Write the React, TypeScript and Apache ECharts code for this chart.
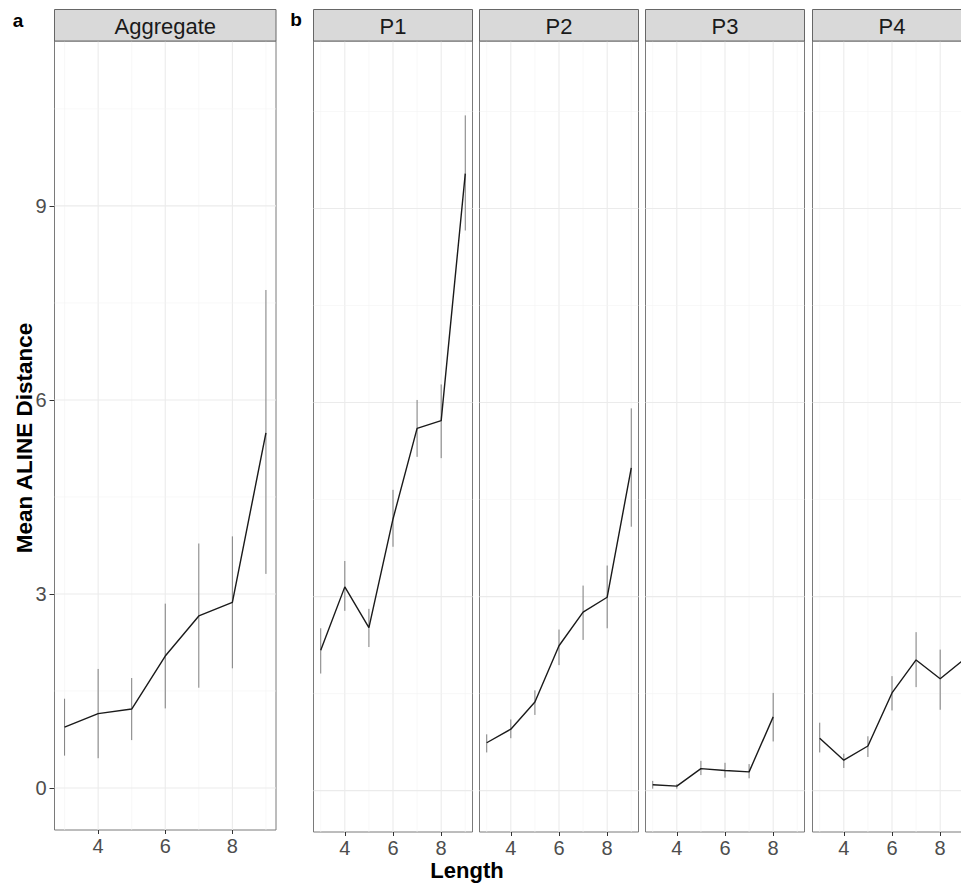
import React, { useEffect, useRef } from "react";
import * as echarts from "echarts";

// ---------- data ----------
const panelNames = ["Aggregate", "P1", "P2", "P3", "P4"];
const lengths = [3, 4, 5, 6, 7, 8, 9];
const lengthsP3 = [3, 4, 5, 6, 7, 8];

const aggMean = [0.94, 1.15, 1.22, 2.04, 2.66, 2.87, 5.49];
const aggLo = [0.5, 0.46, 0.74, 1.23, 1.55, 1.85, 3.31];
const aggHi = [1.38, 1.84, 1.7, 2.85, 3.78, 3.89, 7.7];

const p1Mean = [2.17, 3.15, 2.52, 4.2, 5.6, 5.72, 9.54];
const p1Lo = [1.81, 2.78, 2.22, 3.77, 5.16, 5.14, 8.66];
const p1Hi = [2.51, 3.55, 2.81, 4.65, 6.04, 6.28, 10.44];

const p2Mean = [0.74, 0.95, 1.37, 2.24, 2.76, 2.99, 4.99];
const p2Lo = [0.59, 0.81, 1.17, 1.94, 2.33, 2.51, 4.08];
const p2Hi = [0.87, 1.1, 1.55, 2.49, 3.17, 3.48, 5.91];

const p3Mean = [0.09, 0.07, 0.34, 0.31, 0.29, 1.14];
const p3Lo = [0.03, 0.03, 0.24, 0.2, 0.19, 0.76];
const p3Hi = [0.15, 0.1, 0.46, 0.43, 0.41, 1.51];

const p4Mean = [0.81, 0.47, 0.69, 1.51, 2.02, 1.73, 2.03];
const p4Lo = [0.59, 0.35, 0.52, 1.24, 1.6, 1.25, 1.5];
const p4Hi = [1.05, 0.57, 0.84, 1.77, 2.45, 2.18, 2.6];

const xTickLabels = [4, 6, 8];
const xMinorBreaks = [3, 5, 7, 9];
const yTickLabels = [0, 3, 6, 9];
const yMinorBreaks = [1.5, 4.5, 7.5, 10.5];

const panelX = [lengths, lengths, lengths, lengthsP3, lengths];
const panelMean = [aggMean, p1Mean, p2Mean, p3Mean, p4Mean];
const panelLo = [aggLo, p1Lo, p2Lo, p3Lo, p4Lo];
const panelHi = [aggHi, p1Hi, p2Hi, p3Hi, p4Hi];

// ---------- layout ----------
const panels = [
  { left: 54.5, width: 221.5, top: 41, height: 789, ymin: -0.65, ymax: 11.55 },
  { left: 313.5, width: 159, top: 41, height: 791, ymin: -0.64, ymax: 11.59 },
  { left: 479.5, width: 159, top: 41, height: 791, ymin: -0.64, ymax: 11.59 },
  { left: 645.5, width: 159, top: 41, height: 791, ymin: -0.64, ymax: 11.59 },
  { left: 812.5, width: 159, top: 41, height: 791, ymin: -0.64, ymax: 11.59 },
];

const FONT = "Liberation Sans, Arial, Helvetica, sans-serif";

export default function App() {
  const ref = useRef<HTMLDivElement>(null);
  useEffect(() => {
    if (!ref.current) return;
    const chart = echarts.init(ref.current, null, { renderer: "svg" });

    const grids: any[] = [];
    const xAxes: any[] = [];
    const yAxes: any[] = [];
    const series: any[] = [];
    const graphics: any[] = [];

    panels.forEach((p, i) => {
      grids.push({
        left: p.left,
        top: p.top,
        width: p.width,
        height: p.height,
        show: true,
        borderColor: "#7a7a7a",
        borderWidth: 1,
        backgroundColor: "#ffffff",
        containLabel: false,
      });
      xAxes.push({
        type: "value",
        gridIndex: i,
        position: "bottom",
        min: 2.7,
        max: 9.3,
        axisLine: { show: false, onZero: false },
        splitLine: { show: false },
        axisTick: {
          show: true,
          customValues: xTickLabels,
          length: 4,
          lineStyle: { color: "#333333", width: 1 },
        },
        axisLabel: {
          show: true,
          customValues: xTickLabels,
          margin: 6,
          fontSize: 20,
          color: "#4d4d4d",
          fontFamily: FONT,
        },
      });
      yAxes.push({
        type: "value",
        gridIndex: i,
        position: "left",
        min: p.ymin,
        max: p.ymax,
        axisLine: { show: false, onZero: false },
        splitLine: { show: false },
        axisTick: {
          show: i === 0,
          customValues: yTickLabels,
          length: 5,
          lineStyle: { color: "#333333", width: 1 },
        },
        axisLabel: {
          show: i === 0,
          customValues: yTickLabels,
          margin: 8,
          fontSize: 20,
          color: "#4d4d4d",
          fontFamily: FONT,
        },
      });

      // grid lines
      const gridData: number[][] = [];
      xTickLabels.forEach((v) => gridData.push([v, 0]));
      xMinorBreaks.forEach((v) => gridData.push([v, 1]));
      yTickLabels.forEach((v) => gridData.push([v, 2]));
      yMinorBreaks.forEach((v) => gridData.push([v, 3]));
      series.push({
        type: "custom",
        xAxisIndex: i,
        yAxisIndex: i,
        z: 1,
        silent: true,
        data: gridData,
        encode: { x: -1, y: -1 },
        renderItem: (params: any, api: any) => {
          const v = api.value(0);
          const kind = api.value(1);
          const cs = params.coordSys;
          const major = kind === 0 || kind === 2;
          const style = {
            stroke: major ? "#ebebeb" : "#f4f4f4",
            lineWidth: major ? 1.1 : 0.6,
          };
          if (kind < 2) {
            const x = api.coord([v, 0])[0];
            return {
              type: "line",
              shape: { x1: x, y1: cs.y, x2: x, y2: cs.y + cs.height },
              style,
            };
          }
          const y = api.coord([3, v])[1];
          return {
            type: "line",
            shape: { x1: cs.x, y1: y, x2: cs.x + cs.width, y2: y },
            style,
          };
        },
      });

      // error bars
      const xs = panelX[i];
      const ebData = xs.map((x, k) => [x, panelLo[i][k], panelHi[i][k]]);
      series.push({
        type: "custom",
        xAxisIndex: i,
        yAxisIndex: i,
        z: 3,
        silent: true,
        data: ebData,
        encode: { x: 0, y: [1, 2] },
        renderItem: (params: any, api: any) => {
          const a = api.coord([api.value(0), api.value(1)]);
          const b = api.coord([api.value(0), api.value(2)]);
          return {
            type: "line",
            shape: { x1: a[0], y1: a[1], x2: b[0], y2: b[1] },
            style: { stroke: "#7f7f7f", lineWidth: 1 },
          };
        },
      });

      // mean line
      series.push({
        type: "line",
        xAxisIndex: i,
        yAxisIndex: i,
        z: 4,
        silent: true,
        symbol: "none",
        data: xs.map((x, k) => [x, panelMean[i][k]]),
        lineStyle: { color: "#1a1a1a", width: 1.4 },
      });

      // strip
      graphics.push({
        type: "rect",
        shape: { x: p.left, y: 9.5, width: p.width, height: 31.5 },
        style: { fill: "#d9d9d9", stroke: "#666666", lineWidth: 1 },
        z: 10,
      });
      graphics.push({
        type: "text",
        x: p.left + p.width / 2,
        y: 26,
        style: {
          text: panelNames[i],
          fontSize: 22,
          fontFamily: FONT,
          fill: "#1a1a1a",
          align: "center",
          verticalAlign: "middle",
        },
        z: 11,
      });
    });

    graphics.push(
      {
        type: "text",
        x: 18,
        y: 20,
        style: {
          text: "a",
          fontSize: 19,
          fontWeight: "bold",
          fontFamily: FONT,
          fill: "#000000",
          align: "center",
          verticalAlign: "middle",
        },
      },
      {
        type: "text",
        x: 296,
        y: 19,
        style: {
          text: "b",
          fontSize: 19,
          fontWeight: "bold",
          fontFamily: FONT,
          fill: "#000000",
          align: "center",
          verticalAlign: "middle",
        },
      },
      {
        type: "text",
        x: 24,
        y: 438,
        rotation: Math.PI / 2,
        style: {
          text: "Mean ALINE Distance",
          fontSize: 22.5,
          fontWeight: "bold",
          fontFamily: FONT,
          fill: "#000000",
          align: "center",
          verticalAlign: "middle",
        },
      },
      {
        type: "text",
        x: 467,
        y: 870,
        style: {
          text: "Length",
          fontSize: 22,
          fontWeight: "bold",
          fontFamily: FONT,
          fill: "#000000",
          align: "center",
          verticalAlign: "middle",
        },
      }
    );

    chart.setOption({
      animation: false,
      backgroundColor: "#ffffff",
      grid: grids,
      xAxis: xAxes,
      yAxis: yAxes,
      series,
      graphic: graphics,
    });
    return () => chart.dispose();
  }, []);

  return (
    <div
      style={{
        position: "absolute",
        left: 0,
        top: 0,
        width: 961,
        height: 884,
        overflow: "hidden",
      }}
    >
      <div ref={ref} style={{ width: 990, height: 884 }} />
    </div>
  );
}
